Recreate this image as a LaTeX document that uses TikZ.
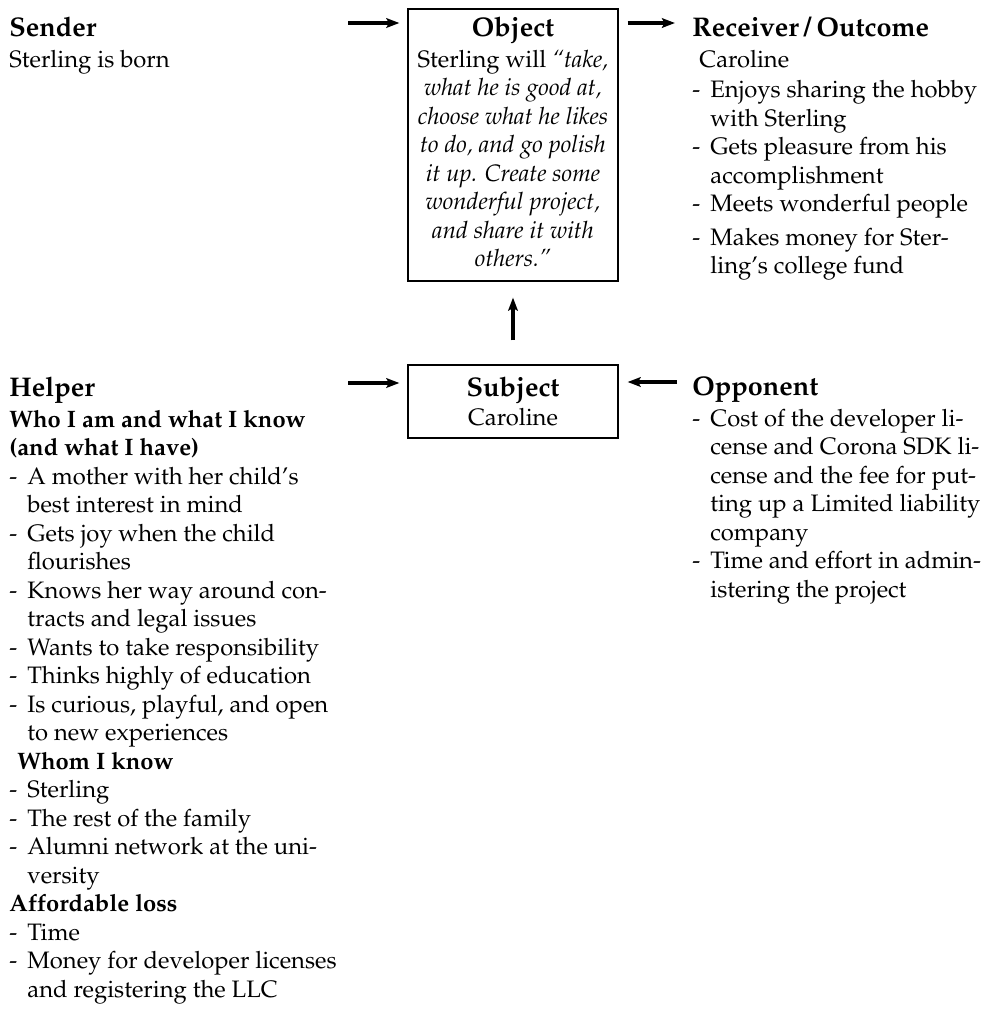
\documentclass[tikz,border=0pt]{standalone}
\usepackage[T1]{fontenc}
\usepackage{mathpazo}
\usetikzlibrary{arrows.meta}

% text sizes
\newcommand\bodyfont{\fontsize{11.9}{14.25}\selectfont}
\newcommand\headfont{\fontsize{13.5}{14.25}\selectfont\bfseries}
% list lines: a dash item and its continuation line
\newcommand\itemline[1]{\makebox[9pt][l]{-}#1}
\newcommand\contline[1]{\hspace*{9pt}#1}

\tikzset{
  txt/.style={inner sep=0pt, anchor=base west, font=\bodyfont},
  ctxt/.style={inner sep=0pt, anchor=base, font=\bodyfont},
  box/.style={draw, line width=0.6pt, inner sep=0pt},
  flow/.style={line width=1.6pt, -{Stealth[length=6.5pt,width=4.8pt,inset=1.2pt]}},
}

\begin{document}
\begin{tikzpicture}[x=0.5pt,y=-0.5pt]
\useasboundingbox (0,0) rectangle (984,1009);

% boxes
\node[box, minimum width=105pt, minimum height=136pt] (obj) at (513,145) {};
\node[box, minimum width=105pt, minimum height=36.5pt] (subj) at (513,401.5) {};

% box texts
\node[ctxt] (objtxt) at (513,36) {\begin{tabular}[t]{@{}c@{}}
{\headfont Object}\\[1.25pt]
Sterling will \textit{``take,}\\
\textit{what he is good at,}\\
\textit{choose what he likes}\\
\textit{to do, and go polish}\\
\textit{it up. Create some}\\
\textit{wonderful project,}\\
\textit{and share it with}\\
\textit{others.''}
\end{tabular}};

\node[ctxt] (subjtxt) at (513,396) {\begin{tabular}[t]{@{}c@{}}
{\headfont Subject}\\[0.25pt]
Caroline
\end{tabular}};

% side texts
\node[txt] (sender) at (9,36) {\begin{tabular}[t]{@{}l@{}}
{\headfont Sender}\\[1.25pt]
Sterling is born
\end{tabular}};

\node[txt] (receiver) at (692,36) {\begin{tabular}[t]{@{}l@{}}
{\headfont Receiver\hspace{0.18em}/\hspace{0.18em}Outcome}\\[1.25pt]
\hspace*{3.5pt}Caroline\\[1pt]
\itemline{Enjoys sharing the hobby}\\
\contline{with Sterling}\\
\itemline{Gets pleasure from his}\\
\contline{accomplishment}\\
\itemline{Meets wonderful people}\\[2.5pt]
\itemline{Makes money for Ster-}\\
\contline{ling's college fund}
\end{tabular}};

\node[txt] (helper) at (9,396) {\begin{tabular}[t]{@{}l@{}}
{\headfont Helper}\\[1.25pt]
\textbf{Who I am and what I know}\\
\textbf{(and what I have)}\\
\itemline{A mother with her child's}\\
\contline{best interest in mind}\\
\itemline{Gets joy when the child}\\
\contline{flourishes}\\
\itemline{Knows her way around con-}\\
\contline{tracts and legal issues}\\
\itemline{Wants to take responsibility}\\
\itemline{Thinks highly of education}\\
\itemline{Is curious, playful, and open}\\
\contline{to new experiences}\\
\hspace*{4pt}\textbf{Whom I know}\\
\itemline{Sterling}\\
\itemline{The rest of the family}\\
\itemline{Alumni network at the uni-}\\
\contline{versity}\\
\textbf{Affordable loss}\\
\itemline{Time}\\
\itemline{Money for developer licenses}\\
\contline{and registering the LLC}
\end{tabular}};

\node[txt] (opponent) at (692,395) {\begin{tabular}[t]{@{}l@{}}
{\headfont Opponent}\\[1.25pt]
\itemline{Cost of the developer li-}\\
\contline{cense and Corona SDK li-}\\
\contline{cense and the fee for put-}\\
\contline{ting up a Limited liability}\\
\contline{company}\\
\itemline{Time and effort in admin-}\\
\contline{istering the project}
\end{tabular}};

% free arrow ends
\coordinate (sendtail) at (348,23);
\coordinate (recvtip) at (675,23);
\coordinate (helptail) at (348,383);
\coordinate (opptail) at (677,382);

% arrows
\draw[flow, shorten >=4pt] (sendtail) -- (sendtail -| obj.west);
\draw[flow, shorten <=4.5pt] (recvtip -| obj.east) -- (recvtip);
\draw[flow, shorten <=12pt, shorten >=8pt] (subj.north) -- (obj.south);
\draw[flow, shorten >=4pt] (helptail) -- (helptail -| subj.west);
\draw[flow, shorten >=4.5pt] (opptail) -- (opptail -| subj.east);
\end{tikzpicture}
\end{document}
